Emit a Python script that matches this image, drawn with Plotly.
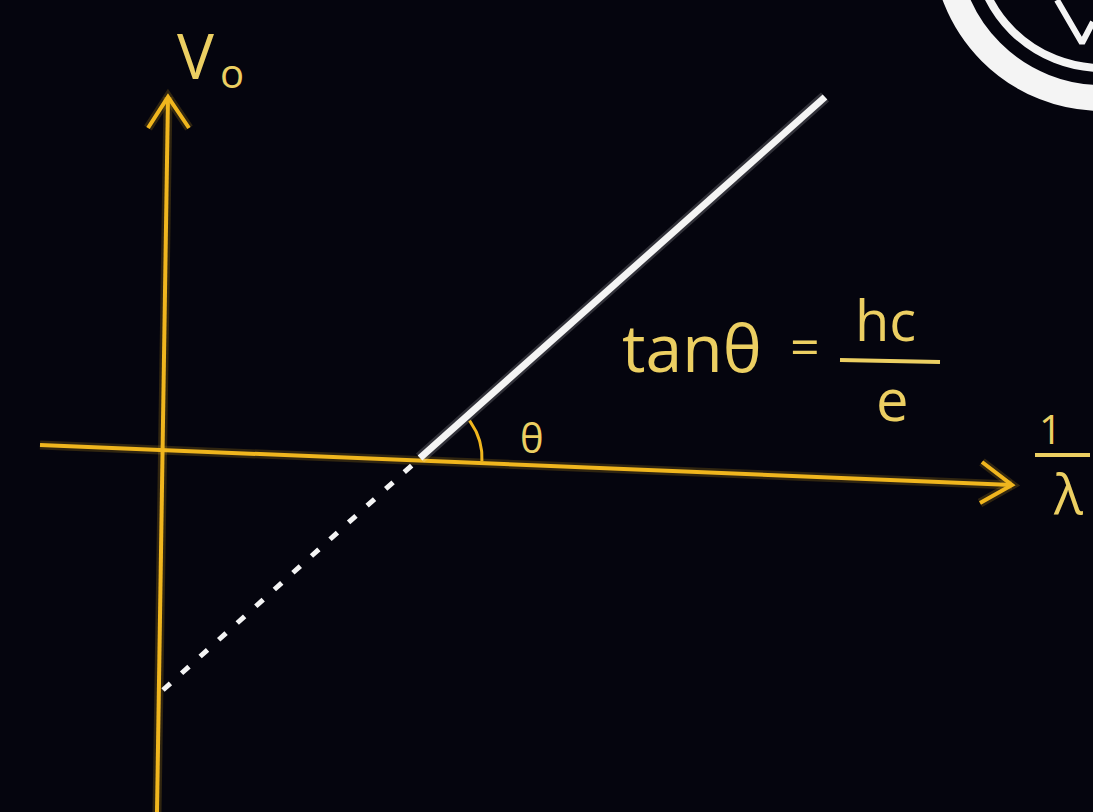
import numpy as np
import plotly.graph_objects as go

# Stopping potential V0 against 1/lambda (photoelectric effect)
# Data units: one unit = one screen pixel, origin at the axes crossing.
inv_lambda_solid = [260, 665]
v0_solid = [-8, 353]
inv_lambda_extrap = [3, 260]
v0_extrap = [-240, -8]

vert_axis_x = [-3, 8]
vert_axis_y = [-362, 353]
vert_head_x = [-12, 8, 29]
vert_head_y = [322, 353, 322]
horiz_axis_x = [-120, 852]
horiz_axis_y = [5, -35]
horiz_head_x = [822, 852, 820]
horiz_head_y = [-12, -35, -53]

BG = "#05050e"
AXIS = "#f0b61e"
INK = "#eccf62"
WHITE = "#f4f4f4"

fig = go.Figure()


def stroke(x, y, color, width, dash="solid", glow=True):
    if glow:
        fig.add_trace(go.Scatter(x=x, y=y, mode="lines",
                                 line=dict(color=color, width=width + 5, dash=dash),
                                 opacity=0.18, hoverinfo="skip", showlegend=False))
    fig.add_trace(go.Scatter(x=x, y=y, mode="lines",
                             line=dict(color=color, width=width, dash=dash),
                             hoverinfo="skip", showlegend=False))


# axes with arrowheads
stroke(vert_axis_x, vert_axis_y, AXIS, 4)
stroke(vert_head_x, vert_head_y, AXIS, 4)
stroke(horiz_axis_x, horiz_axis_y, AXIS, 4)
stroke(horiz_head_x, horiz_head_y, AXIS, 4)

# measured straight line and its extrapolation to the V0 axis
stroke(inv_lambda_solid, v0_solid, WHITE, 7)
stroke(inv_lambda_extrap, v0_extrap, WHITE, 5, dash="10px,15px", glow=False)

# angle mark theta at the threshold point
ang = np.radians(np.linspace(-3, 37, 30))
cx, cy, r = inv_lambda_solid[0], v0_solid[0], 62
stroke(cx + r * np.cos(ang), cy + r * np.sin(ang), AXIS, 3, glow=False)

# logo ring in the top right corner
fig.add_shape(type="circle", x0=785, x1=1099, y0=352, y1=666,
              line=dict(color=WHITE, width=26))
fig.add_shape(type="circle", x0=815, x1=1069, y0=382, y1=636,
              line=dict(color=WHITE, width=8))
stroke([897, 922, 933], [450, 407, 428], WHITE, 6, glow=False)

# fraction bar of hc/e
stroke([680, 780], [90, 88], INK, 4, glow=False)


def label(text, x, y, size, color=INK):
    fig.add_annotation(x=x, y=y, text=text, showarrow=False,
                       font=dict(family="Open Sans", size=size, color=color),
                       xanchor="center", yanchor="middle")


label("V", 35, 395, 62)
label("o", 72, 378, 40)
label("tanθ", 532, 104, 66)
label("=", 645, 106, 52)
label("hc", 725, 131, 56)
label("e", 732, 52, 58)
label("θ", 372, 13, 40)
label("1", 890, 22, 40)
stroke([875, 930], [-5, -5], INK, 4, glow=False)
label("λ", 908, -43, 54)

fig.update_layout(
    width=1093, height=812,
    margin=dict(l=0, r=0, t=0, b=0),
    paper_bgcolor=BG, plot_bgcolor=BG,
    xaxis=dict(range=[-160, 933], visible=False, fixedrange=True),
    yaxis=dict(range=[-362, 450], visible=False, fixedrange=True),
    showlegend=False,
)

fig.write_html("out.html")
